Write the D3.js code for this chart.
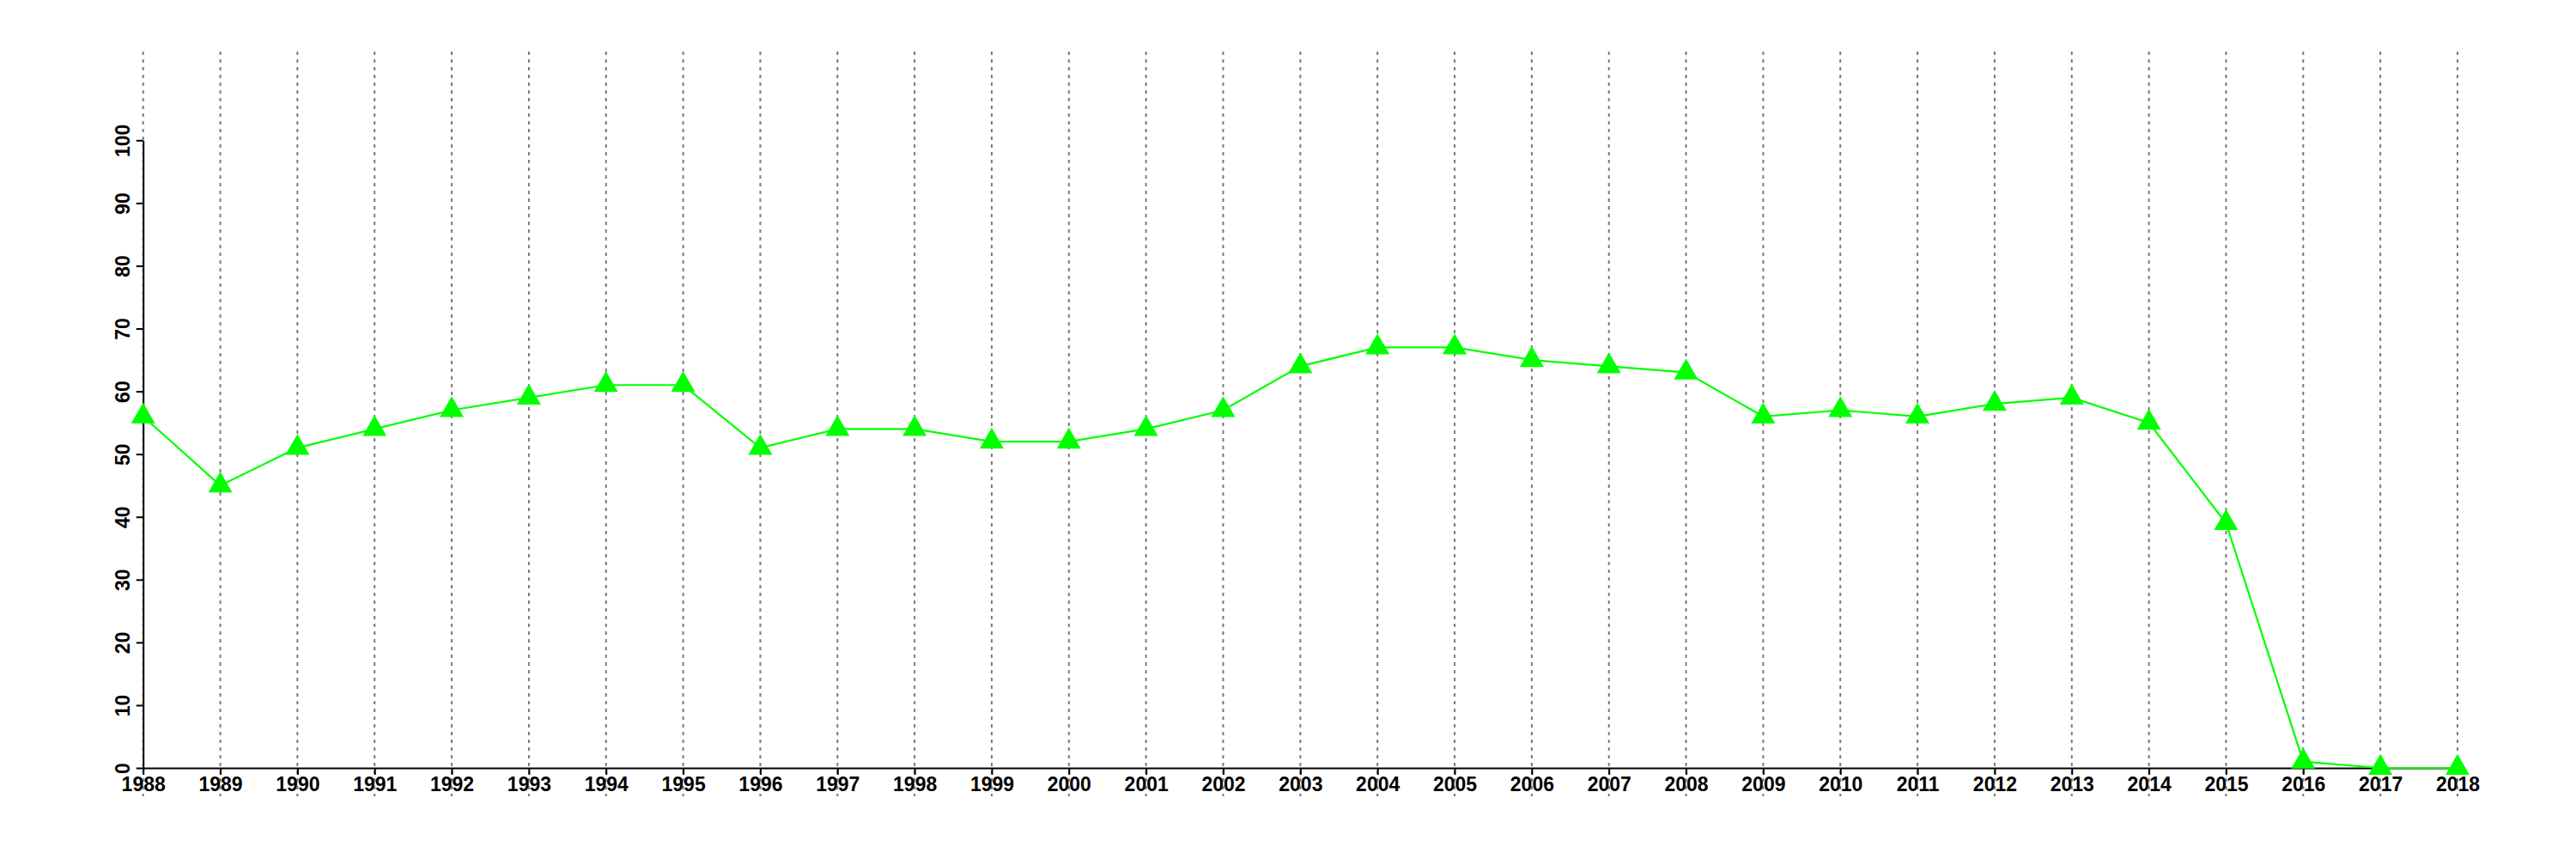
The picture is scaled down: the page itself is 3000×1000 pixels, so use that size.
<!DOCTYPE html>
<html>
<head>
<meta charset="utf-8">
<script src="https://cdn.jsdelivr.net/npm/d3@7"></script>
<style>
  html, body { margin: 0; padding: 0; background: #fff; }
  svg { display: block; }
</style>
</head>
<body>
<script>
const years = [1988,1989,1990,1991,1992,1993,1994,1995,1996,1997,1998,1999,2000,2001,2002,2003,2004,2005,2006,2007,2008,2009,2010,2011,2012,2013,2014,2015,2016,2017,2018];
const values = [56,45,51,54,57,59,61,61,51,54,54,52,52,54,57,64,67,67,65,64,63,56,57,56,58,59,55,39,1,0,0];
const yTicks = [0,10,20,30,40,50,60,70,80,90,100];

const W = 3000, H = 1000;
const svg = d3.select("body").append("svg").attr("width", W).attr("height", H);

const x = d3.scaleLinear().domain([1988, 2018]).range([166.7, 2862]);
const y = d3.scaleLinear().domain([0, 100]).range([894, 163.3]);

// dashed vertical grid lines
svg.append("g").selectAll("line").data(years).join("line")
  .attr("x1", d => x(d)).attr("x2", d => x(d))
  .attr("y1", 60).attr("y2", 927)
  .attr("stroke", "#7a7a7a").attr("stroke-width", 2)
  .attr("stroke-dasharray", "4,5");

const font = "'Liberation Sans', Arial, Helvetica, sans-serif";

// y axis
const gy = svg.append("g").attr("transform", "translate(166.7,0)")
  .call(d3.axisLeft(y).tickValues(yTicks).tickSize(8).tickSizeOuter(0));
gy.select(".domain").attr("stroke", "#000").attr("stroke-width", 2);
gy.selectAll(".tick line").attr("stroke", "#000").attr("stroke-width", 2);
gy.selectAll(".tick text")
  .attr("transform", "rotate(-90)")
  .attr("x", 0).attr("y", -16).attr("dy", 0)
  .attr("text-anchor", "middle")
  .attr("fill", "#000")
  .style("font-family", font).style("font-size", "23px").style("font-weight", "bold");

// x axis
const gx = svg.append("g").attr("transform", "translate(0,894)")
  .call(d3.axisBottom(x).tickValues(years).tickFormat(d3.format("d")).tickSize(8).tickSizeOuter(0));
gx.select(".domain").attr("stroke", "#000").attr("stroke-width", 2);
gx.selectAll(".tick line").attr("stroke", "#000").attr("stroke-width", 2);
gx.selectAll(".tick text")
  .attr("y", 26.5).attr("dy", 0)
  .attr("fill", "#000")
  .style("font-family", font).style("font-size", "23px").style("font-weight", "bold");

const data = years.map((yr, i) => ({ yr, v: values[i] }));

// line
svg.append("path").datum(data)
  .attr("fill", "none").attr("stroke", "#00ff00").attr("stroke-width", 2.2)
  .attr("d", d3.line().x(d => x(d.yr)).y(d => y(d.v)));

// triangle markers
svg.append("g").selectAll("path").data(data).join("path")
  .attr("transform", d => `translate(${x(d.yr)},${y(d.v)})`)
  .attr("d", d3.symbol().type(d3.symbolTriangle).size(340))
  .attr("fill", "#00ff00");
</script>
</body>
</html>
